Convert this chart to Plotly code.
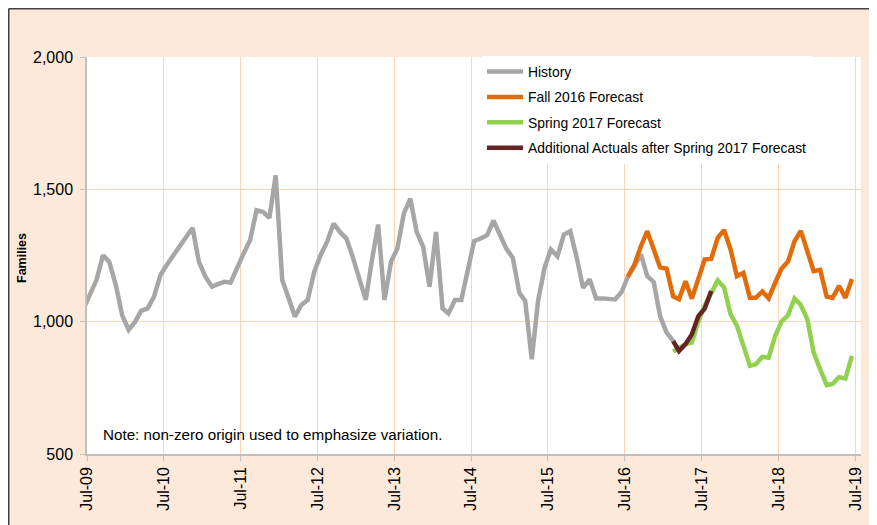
import pandas as pd
import plotly.graph_objects as go

# ---- data (monthly, Jun-09 .. Jun-19) ----
history_start = "2009-06"
history = [1050, 1103, 1157, 1251, 1226, 1138, 1025, 969, 1000, 1041, 1050, 1094,
           1176, 1214, 1251, 1289, 1320, 1354, 1226, 1170, 1132, 1142, 1151, 1148,
           1207, 1257, 1308, 1421, 1415, 1392, 1553, 1157, 1088, 1019, 1063, 1082,
           1188, 1251, 1301, 1371, 1339, 1314, 1245, 1163, 1082, 1226, 1367, 1082,
           1226, 1276, 1408, 1465, 1339, 1283, 1132, 1339, 1050, 1031, 1082, 1082,
           1195, 1304, 1314, 1327, 1382, 1329, 1276, 1241, 1109, 1078, 858, 1078,
           1204, 1273, 1247, 1329, 1342, 1241, 1128, 1160, 1088, 1088, 1084, 1084,
           1112, 1170, 1210, 1254, 1172, 1149, 1021, 959, 927]

fall_start = "2016-07"
fall_2016 = [1170, 1216, 1285, 1342, 1273, 1205, 1200, 1095, 1085, 1153, 1087, 1168,
             1235, 1237, 1317, 1346, 1273, 1172, 1185, 1090, 1090, 1114, 1088, 1147,
             1200, 1227, 1304, 1343, 1270, 1191, 1196, 1095, 1090, 1135, 1090, 1161]

spring_start = "2017-02"
spring_2017 = [887, 900, 915, 921, 1000, 1060, 1110, 1156, 1130, 1028, 985, 902,
               833, 839, 867, 864, 946, 1000, 1024, 1088, 1063, 1009, 883, 820,
               760, 765, 791, 785, 871]

actuals_start = "2017-02"
additional_actuals = [927, 889, 915, 952, 1021, 1049, 1116]

tick_dates = [f"{y}-07-01" for y in range(2009, 2020)]
tick_labels = ["Jul-09", "Jul-10", "Jul-11", "Jul-12", "Jul-13", "Jul-14",
               "Jul-15", "Jul-16", "Jul-17", "Jul-18", "Jul-19"]
y_ticks = [500, 1000, 1500, 2000]


def month_dates(start, n):
    return pd.date_range(start=start + "-01", periods=n, freq="MS") + pd.Timedelta(days=14)


FONT = "Liberation Sans, Arial, sans-serif"
PEACH = "#FDE9D9"
GRID = "#FCD5B4"
AXIS = "#BFBFBF"

series = [
    ("History", history_start, history, "#A6A6A6"),
    ("Fall 2016 Forecast", fall_start, fall_2016, "#E36C0A"),
    ("Spring 2017 Forecast", spring_start, spring_2017, "#92D050"),
    ("Additional Actuals after Spring 2017 Forecast", actuals_start, additional_actuals, "#632523"),
]

fig = go.Figure()
for name, start, vals, color in series:
    fig.add_trace(go.Scatter(
        x=month_dates(start, len(vals)), y=vals, mode="lines", name=name,
        legendgroup=name, line=dict(color=color, width=4.5),
    ))

# page body adds an 8px offset; screenshot coords -> figure coords
OFF = 8
W, H = 877, 525
L, T = 87 - OFF, 57 - OFF
R = W - (861 - OFF)
B = H - (454 - OFF)
pw, ph = W - L - R, H - T - B


def px_x(p):
    return (p - OFF - L) / pw


def px_y(p):
    return (H - B - (p - OFF)) / ph


shapes = [
    dict(type="line", xref="paper", yref="paper", x0=px_x(8.75), x1=px_x(900), y0=px_y(8.75), y1=px_y(8.75),
         line=dict(color="#404040", width=1.5), layer="above"),
    dict(type="line", xref="paper", yref="paper", x0=px_x(8.75), x1=px_x(8.75), y0=px_y(8.75), y1=px_y(560),
         line=dict(color="#404040", width=1.5), layer="above"),
]

fig.update_layout(
    width=W, height=H,
    margin=dict(l=L, r=R, t=T, b=B),
    paper_bgcolor=PEACH, plot_bgcolor="white",
    font=dict(family=FONT, color="black"),
    showlegend=True,
    legend=dict(x=px_x(482), y=px_y(56), xanchor="left", yanchor="top",
                bgcolor="white", borderwidth=0, tracegroupgap=4.3, itemwidth=36,
                font=dict(family=FONT, size=13.9, color="black"), traceorder="grouped"),
    shapes=shapes,
    annotations=[
        dict(text="Note: non-zero origin used to emphasize variation.", xref="paper", yref="paper",
             x=px_x(101), y=px_y(434), xanchor="left", yanchor="middle", showarrow=False,
             font=dict(family=FONT, size=15.2, color="black")),
        dict(text="<b>Families</b>", xref="paper", yref="paper", x=px_x(22), y=px_y(258),
             xanchor="center", yanchor="middle", textangle=-90, showarrow=False,
             font=dict(family=FONT, size=12.5, color="black")),
    ],
)

fig.update_xaxes(
    type="date", range=["2009-07-01", "2019-07-28"],
    tickvals=tick_dates, ticktext=tick_labels, tickangle=-90,
    tickfont=dict(family=FONT, size=16, color="black"),
    showgrid=True, gridcolor=GRID, gridwidth=1,
    showline=True, linecolor=AXIS, linewidth=1.5,
    ticks="outside", ticklen=5, tickcolor=AXIS, zeroline=False,
)
fig.update_yaxes(
    range=[500, 2000], tickvals=y_ticks, tickformat=",",
    tickfont=dict(family=FONT, size=16, color="black"),
    showgrid=True, gridcolor=GRID, gridwidth=1,
    showline=True, linecolor=AXIS, linewidth=1.5,
    ticks="outside", ticklen=5, tickcolor=AXIS, zeroline=False,
    ticklabelstandoff=4,
)

fig.write_html("out.html")
